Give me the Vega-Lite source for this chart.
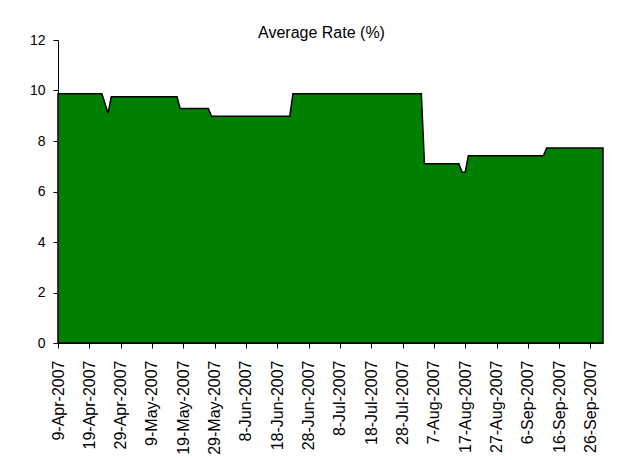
{
  "$schema": "https://vega.github.io/schema/vega-lite/v6.json",
  "width": 545,
  "height": 303,
  "autosize": {"type": "none"},
  "padding": {"left": 58, "top": 40, "right": 27, "bottom": 117},
  "background": "white",
  "config": {"view": {"stroke": null}, "font": "Liberation Sans"},
  "title": {"text": "Average Rate (%)", "fontSize": 16, "fontWeight": "normal", "color": "black", "anchor": "middle", "dx": -9, "offset": -8},
  "data": {
    "values": [
      {"date": "2007-04-09", "rate": 9.87},
      {"date": "2007-04-23", "rate": 9.87},
      {"date": "2007-04-25", "rate": 9.10},
      {"date": "2007-04-26", "rate": 9.75},
      {"date": "2007-05-17", "rate": 9.75},
      {"date": "2007-05-18", "rate": 9.29},
      {"date": "2007-05-27", "rate": 9.29},
      {"date": "2007-05-28", "rate": 8.98},
      {"date": "2007-06-22", "rate": 8.98},
      {"date": "2007-06-23", "rate": 9.87},
      {"date": "2007-08-03", "rate": 9.87},
      {"date": "2007-08-04", "rate": 7.10},
      {"date": "2007-08-15", "rate": 7.10},
      {"date": "2007-08-16", "rate": 6.76},
      {"date": "2007-08-17", "rate": 6.76},
      {"date": "2007-08-18", "rate": 7.42},
      {"date": "2007-09-11", "rate": 7.42},
      {"date": "2007-09-12", "rate": 7.72},
      {"date": "2007-09-30", "rate": 7.72}
    ]
  },
  "mark": {"type": "area", "color": "#008000", "stroke": "black", "strokeWidth": 1.5, "interpolate": "linear"},
  "encoding": {
    "x": {
      "field": "date",
      "type": "temporal",
      "scale": {
        "type": "utc",
        "domain": [
          {"year": 2007, "month": "apr", "date": 9, "utc": true},
          {"year": 2007, "month": "sep", "date": 30, "utc": true}
        ]
      },
      "axis": {
        "title": null,
        "grid": false,
        "values": [
          {"year": 2007, "month": "apr", "date": 9, "utc": true},
          {"year": 2007, "month": "apr", "date": 19, "utc": true},
          {"year": 2007, "month": "apr", "date": 29, "utc": true},
          {"year": 2007, "month": "may", "date": 9, "utc": true},
          {"year": 2007, "month": "may", "date": 19, "utc": true},
          {"year": 2007, "month": "may", "date": 29, "utc": true},
          {"year": 2007, "month": "jun", "date": 8, "utc": true},
          {"year": 2007, "month": "jun", "date": 18, "utc": true},
          {"year": 2007, "month": "jun", "date": 28, "utc": true},
          {"year": 2007, "month": "jul", "date": 8, "utc": true},
          {"year": 2007, "month": "jul", "date": 18, "utc": true},
          {"year": 2007, "month": "jul", "date": 28, "utc": true},
          {"year": 2007, "month": "aug", "date": 7, "utc": true},
          {"year": 2007, "month": "aug", "date": 17, "utc": true},
          {"year": 2007, "month": "aug", "date": 27, "utc": true},
          {"year": 2007, "month": "sep", "date": 6, "utc": true},
          {"year": 2007, "month": "sep", "date": 16, "utc": true},
          {"year": 2007, "month": "sep", "date": 26, "utc": true}
        ],
        "labelExpr": "utcFormat(datum.value, '%-d-%b-%Y')",
        "labelAngle": -90,
        "labelAlign": "right",
        "labelBaseline": "middle",
        "labelFontSize": 16,
        "labelColor": "black",
        "labelPadding": 12,
        "labelOverlap": false,
        "labelFlush": false,
        "tickSize": 5,
        "tickColor": "black",
        "domainColor": "black"
      }
    },
    "y": {
      "field": "rate",
      "type": "quantitative",
      "scale": {"domain": [0, 12], "nice": false, "zero": true},
      "axis": {
        "title": null,
        "grid": false,
        "values": [0, 2, 4, 6, 8, 10, 12],
        "format": "d",
        "labelFontSize": 14,
        "labelColor": "black",
        "labelPadding": 8,
        "tickSize": 5,
        "tickColor": "black",
        "domainColor": "black"
      }
    }
  }
}
